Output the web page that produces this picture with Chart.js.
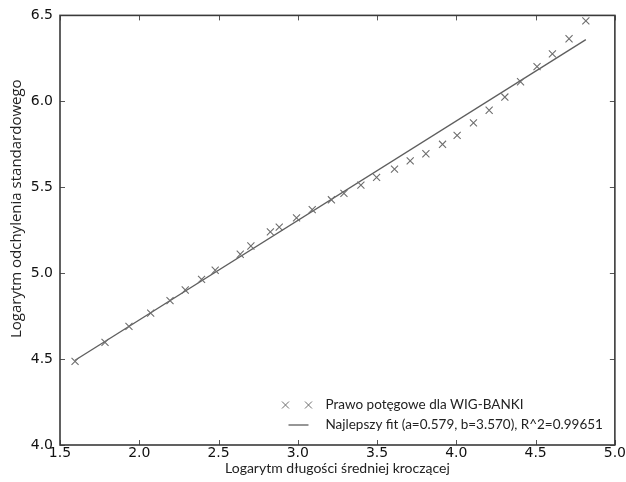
<!DOCTYPE html>
<html><head><meta charset="utf-8">
<script src="https://cdn.jsdelivr.net/npm/chart.js@4.4.1/dist/chart.umd.min.js"></script>
<style>html,body{margin:0;padding:0;background:#fff}</style>
</head><body>
<canvas id="c" width="626" height="482"></canvas>
<script>
const xValues = [1.595, 1.784, 1.935, 2.072, 2.194, 2.290, 2.393, 2.479, 2.637, 2.704, 2.827, 2.883, 2.992, 3.091, 3.212, 3.291, 3.398, 3.497, 3.610, 3.709, 3.808, 3.913, 4.005, 4.108, 4.207, 4.306, 4.405, 4.509, 4.606, 4.711, 4.817];
const yValues = [4.487, 4.597, 4.690, 4.767, 4.840, 4.902, 4.964, 5.017, 5.110, 5.158, 5.240, 5.268, 5.322, 5.370, 5.427, 5.464, 5.512, 5.557, 5.605, 5.653, 5.695, 5.750, 5.802, 5.875, 5.948, 6.025, 6.114, 6.202, 6.276, 6.364, 6.468];
const fitX = [1.595, 4.817];
const fitY = [4.493, 6.359];
const xTicks = [1.5, 2.0, 2.5, 3.0, 3.5, 4.0, 4.5, 5.0];
const yTicks = [4.0, 4.5, 5.0, 5.5, 6.0, 6.5];
const seriesLabel = 'Prawo potęgowe dla WIG-BANKI';
const fitLabel = 'Najlepszy fit (a=0.579, b=3.570), R^2=0.99651';
const xTitle = 'Logarytm długości średniej kroczącej';
const yTitle = 'Logarytm odchylenia standardowego';

const markerColor = '#6e6e6e';
const lineColor = '#5e5e5e';
const textFont = 'Lato';

const framePlugin = {
  id: 'frame',
  afterDraw(chart) {
    const {ctx, chartArea: a, scales} = chart;
    ctx.save();
    ctx.strokeStyle = '#555';
    ctx.lineWidth = 1;
    const tl = 5;
    ctx.beginPath();
    xTicks.forEach(v => {
      const px = Math.round(scales.x.getPixelForValue(v)) + 0.5;
      ctx.moveTo(px, a.bottom); ctx.lineTo(px, a.bottom - tl);
      ctx.moveTo(px, a.top); ctx.lineTo(px, a.top + tl);
    });
    yTicks.forEach(v => {
      const py = Math.round(scales.y.getPixelForValue(v)) + 0.5;
      ctx.moveTo(a.left, py); ctx.lineTo(a.left + tl, py);
      ctx.moveTo(a.right, py); ctx.lineTo(a.right - tl, py);
    });
    ctx.stroke();
    ctx.strokeStyle = '#3a3a3a';
    ctx.lineWidth = 1.6;
    ctx.strokeRect(a.left, a.top, a.right - a.left, a.bottom - a.top);

    ctx.fillStyle = '#222';
    ctx.font = '15px "Open Sans"';
    ctx.textAlign = 'center';
    ctx.textBaseline = 'middle';
    ctx.translate(17, a.top + (a.bottom - a.top) * 0.45);
    ctx.rotate(-Math.PI / 2);
    ctx.fillText(yTitle, 0, 0);
    ctx.setTransform(1, 0, 0, 1, 0, 0);

    ctx.font = '13.5px ' + textFont;
    const w = Math.max(ctx.measureText(seriesLabel).width, ctx.measureText(fitLabel).width);
    const tx = a.right - 12 - w;
    const y2 = a.bottom - 20;
    const y1 = y2 - 20;
    ctx.textAlign = 'left';
    ctx.textBaseline = 'middle';
    ctx.fillStyle = '#222';
    ctx.fillText(seriesLabel, tx, y1);
    ctx.fillText(fitLabel, tx, y2);
    ctx.strokeStyle = markerColor;
    ctx.lineWidth = 1;
    [tx - 40, tx - 17].forEach(cx => {
      ctx.beginPath();
      ctx.moveTo(cx - 3.5, y1 - 3.5); ctx.lineTo(cx + 3.5, y1 + 3.5);
      ctx.moveTo(cx - 3.5, y1 + 3.5); ctx.lineTo(cx + 3.5, y1 - 3.5);
      ctx.stroke();
    });
    ctx.strokeStyle = lineColor;
    ctx.lineWidth = 1.3;
    ctx.beginPath();
    ctx.moveTo(tx - 37, y2); ctx.lineTo(tx - 17, y2);
    ctx.stroke();
    ctx.restore();
  }
};

new Chart(document.getElementById('c'), {
  type: 'scatter',
  data: {
    datasets: [
      {
        label: seriesLabel,
        data: xValues.map((x, i) => ({x: x, y: yValues[i]})),
        pointStyle: 'crossRot',
        pointRadius: 5,
        borderColor: markerColor,
        backgroundColor: markerColor,
        borderWidth: 1.1,
        showLine: false
      },
      {
        label: fitLabel,
        data: fitX.map((x, i) => ({x: x, y: fitY[i]})),
        showLine: true,
        pointRadius: 0,
        borderColor: lineColor,
        borderWidth: 1.3,
        fill: false
      }
    ]
  },
  options: {
    responsive: false,
    animation: false,
    layout: {padding: {top: 13, right: 11, left: 0, bottom: 0}},
    plugins: {legend: {display: false}, tooltip: {enabled: false}},
    scales: {
      x: {
        type: 'linear', min: 1.5, max: 5.0,
        afterBuildTicks(s) { s.ticks = xTicks.map(v => ({value: v})); },
        ticks: {callback: v => Number(v).toFixed(1), font: {family: 'DejaVu Sans', size: 14}, color: '#111', padding: 0, maxRotation: 0, autoSkip: false},
        grid: {display: false, drawTicks: false},
        border: {display: false},
        title: {display: true, text: xTitle, font: {family: textFont, size: 14}, color: '#222', padding: {top: 0, bottom: 5}},
        afterFit(s) { s.height = 37; }
      },
      y: {
        type: 'linear', min: 4.0, max: 6.5,
        afterBuildTicks(s) { s.ticks = yTicks.map(v => ({value: v})); },
        ticks: {callback: v => Number(v).toFixed(1), font: {family: 'DejaVu Sans', size: 14}, color: '#111', padding: 7, autoSkip: false},
        grid: {display: false, drawTicks: false},
        border: {display: false},
        afterFit(s) { s.width = 60; }
      }
    }
  },
  plugins: [framePlugin]
});
</script>
</body></html>
